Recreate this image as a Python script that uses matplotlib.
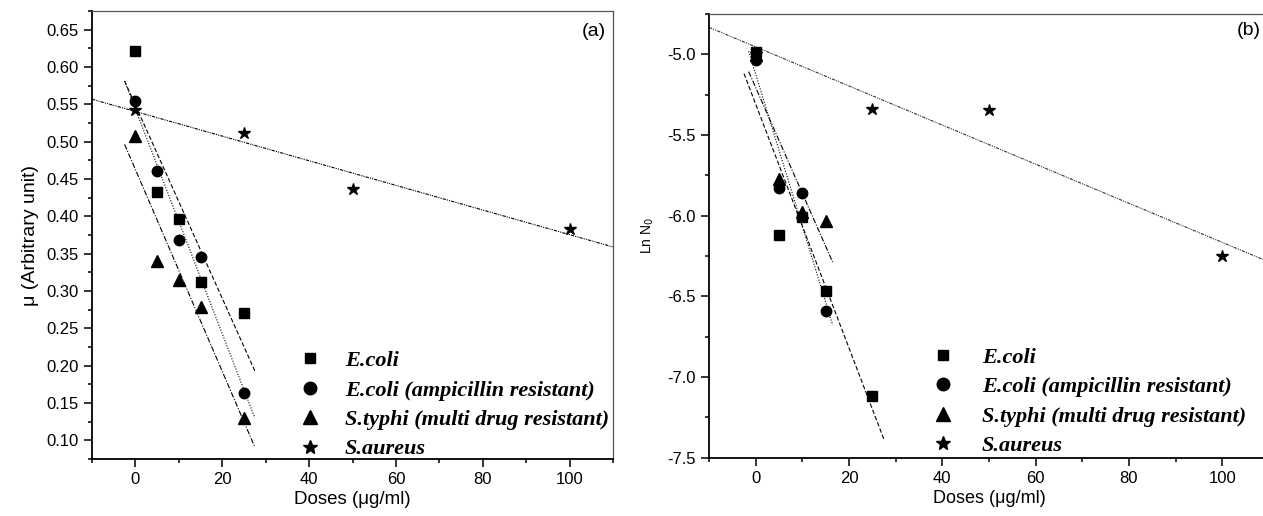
import numpy as np
import matplotlib
matplotlib.use("Agg")
import matplotlib.pyplot as plt
from matplotlib.ticker import MultipleLocator, FormatStrFormatter

plt.rcParams['font.family'] = ['Liberation Sans', 'DejaVu Sans']

# ---- data ----
doses_main = [0, 5, 10, 15, 25]
doses_typhi_b = [0, 5, 10, 15]
doses_amp_b = [0, 5, 10, 15]
doses_aureus = [0, 25, 50, 100]

labels = ["E.coli", "E.coli (ampicillin resistant)",
          "S.typhi (multi drug resistant)", "S.aureus"]

# panel (a): mu (arbitrary unit)
mu_ecoli = [0.622, 0.432, 0.396, 0.312, 0.271]
mu_ecoli_amp = [0.554, 0.461, 0.368, 0.345, 0.163]
mu_typhi = [0.507, 0.340, 0.315, 0.278, 0.130]
mu_aureus = [0.542, 0.511, 0.437, 0.383]

# panel (b): Ln N0
ln_ecoli = [-4.986, -6.118, -6.010, -6.465, -7.120]
ln_ecoli_amp = [-5.033, -5.829, -5.862, -6.593]
ln_typhi = [-5.005, -5.775, -5.980, -6.030]
ln_aureus = [-5.000, -5.337, -5.347, -6.252]

markers = ['s', 'o', '^', '*']
msizes = [6.5, 7.5, 8, 9]
dashes = [(4, 2), (1, 1.5), (5, 1.5, 1, 1.5), (3, 1, 1, 1, 1, 1)]

fig = plt.figure(figsize=(12.63, 5.16), dpi=100)
axA = fig.add_axes([92/1263, 1-459/516, 521/1263, (459-11)/516])
axB = fig.add_axes([709/1263, 1-457.7/516, 560/1263, (457.7-14)/516])


def fit_line(ax, x, y, xr, dash, color='black', lw=0.8):
    p = np.polyfit(x, y, 1)
    xx = np.array(xr)
    ax.plot(xx, np.polyval(p, xx), color=color, lw=lw, dashes=dash)


def ext(x):
    r = max(x) - min(x)
    return [min(x) - 0.1 * r, max(x) + 0.1 * r]


def style(ax, xlabsize):
    ax.tick_params(which='both', direction='out', top=False, right=False,
                   labelsize=12, width=1.1, colors='black')
    ax.tick_params(which='major', length=6)
    ax.tick_params(which='minor', length=3)
    for s in ['left', 'bottom']:
        ax.spines[s].set_linewidth(1.3)
    for s in ['top', 'right']:
        ax.spines[s].set_linewidth(0.9)
        ax.spines[s].set_color('#555555')
    ax.set_xlim(-10, 110)
    ax.xaxis.set_major_locator(MultipleLocator(20))
    ax.xaxis.set_minor_locator(MultipleLocator(10))
    ax.set_xlabel("Doses (\u03bcg/ml)", fontsize=xlabsize, labelpad=3)


leg_font = {'family': 'Liberation Serif', 'weight': 'bold', 'style': 'italic', 'size': 16}

# ---- panel (a) ----
sets_a = [(doses_main, mu_ecoli), (doses_main, mu_ecoli_amp),
          (doses_main, mu_typhi), (doses_aureus, mu_aureus)]
for i, (x, y) in enumerate(sets_a):
    xr = [-10, 110] if i == 3 else ext(x)
    fit_line(axA, x, y, xr, dashes[i])
for i, (x, y) in enumerate(sets_a):
    axA.plot(x, y, linestyle='none', marker=markers[i], ms=msizes[i],
             color='black', label=labels[i])
style(axA, 13.5)
axA.set_ylim(0.075, 0.675)
axA.yaxis.set_major_locator(MultipleLocator(0.05))
axA.yaxis.set_minor_locator(MultipleLocator(0.025))
axA.yaxis.set_major_formatter(FormatStrFormatter('%.2f'))
axA.set_ylabel("\u03bc (Arbitrary unit)", fontsize=14, labelpad=5)
axA.text(0.987, 0.974, "(a)", transform=axA.transAxes, ha='right', va='top', fontsize=14)
axA.legend(loc='upper left', bbox_to_anchor=(0.397, 0.242), frameon=False,
           prop=leg_font, handlelength=0.97, handletextpad=1.1, labelspacing=0.4,
           markerscale=1.2, borderaxespad=0, borderpad=0)

# ---- panel (b) ----
sets_b = [(doses_main, ln_ecoli), (doses_amp_b, ln_ecoli_amp),
          (doses_typhi_b, ln_typhi), (doses_aureus, ln_aureus)]
for i, (x, y) in enumerate(sets_b):
    xr = [-10, 110] if i == 3 else ext(x)
    fit_line(axB, x, y, xr, dashes[i], color='#333333' if i == 3 else 'black')
for i, (x, y) in enumerate(sets_b):
    axB.plot(x, y, linestyle='none', marker=markers[i], ms=msizes[i],
             color='black', label=labels[i])
style(axB, 13)
axB.set_ylim(-7.5, -4.75)
axB.yaxis.set_major_locator(MultipleLocator(0.5))
axB.yaxis.set_minor_locator(MultipleLocator(0.25))
axB.yaxis.set_major_formatter(FormatStrFormatter('%.1f'))
axB.set_ylabel("Ln N$_0$", fontsize=10, labelpad=8)
fig.text(1261/1263, 1-22/516, "(b)", ha='right', va='top', fontsize=14)
axB.legend(loc='upper left', bbox_to_anchor=(0.398, 0.249), frameon=False,
           prop=leg_font, handlelength=0.97, handletextpad=1.28, labelspacing=0.4,
           markerscale=1.2, borderaxespad=0, borderpad=0)

fig.savefig("out.png", dpi=100)
